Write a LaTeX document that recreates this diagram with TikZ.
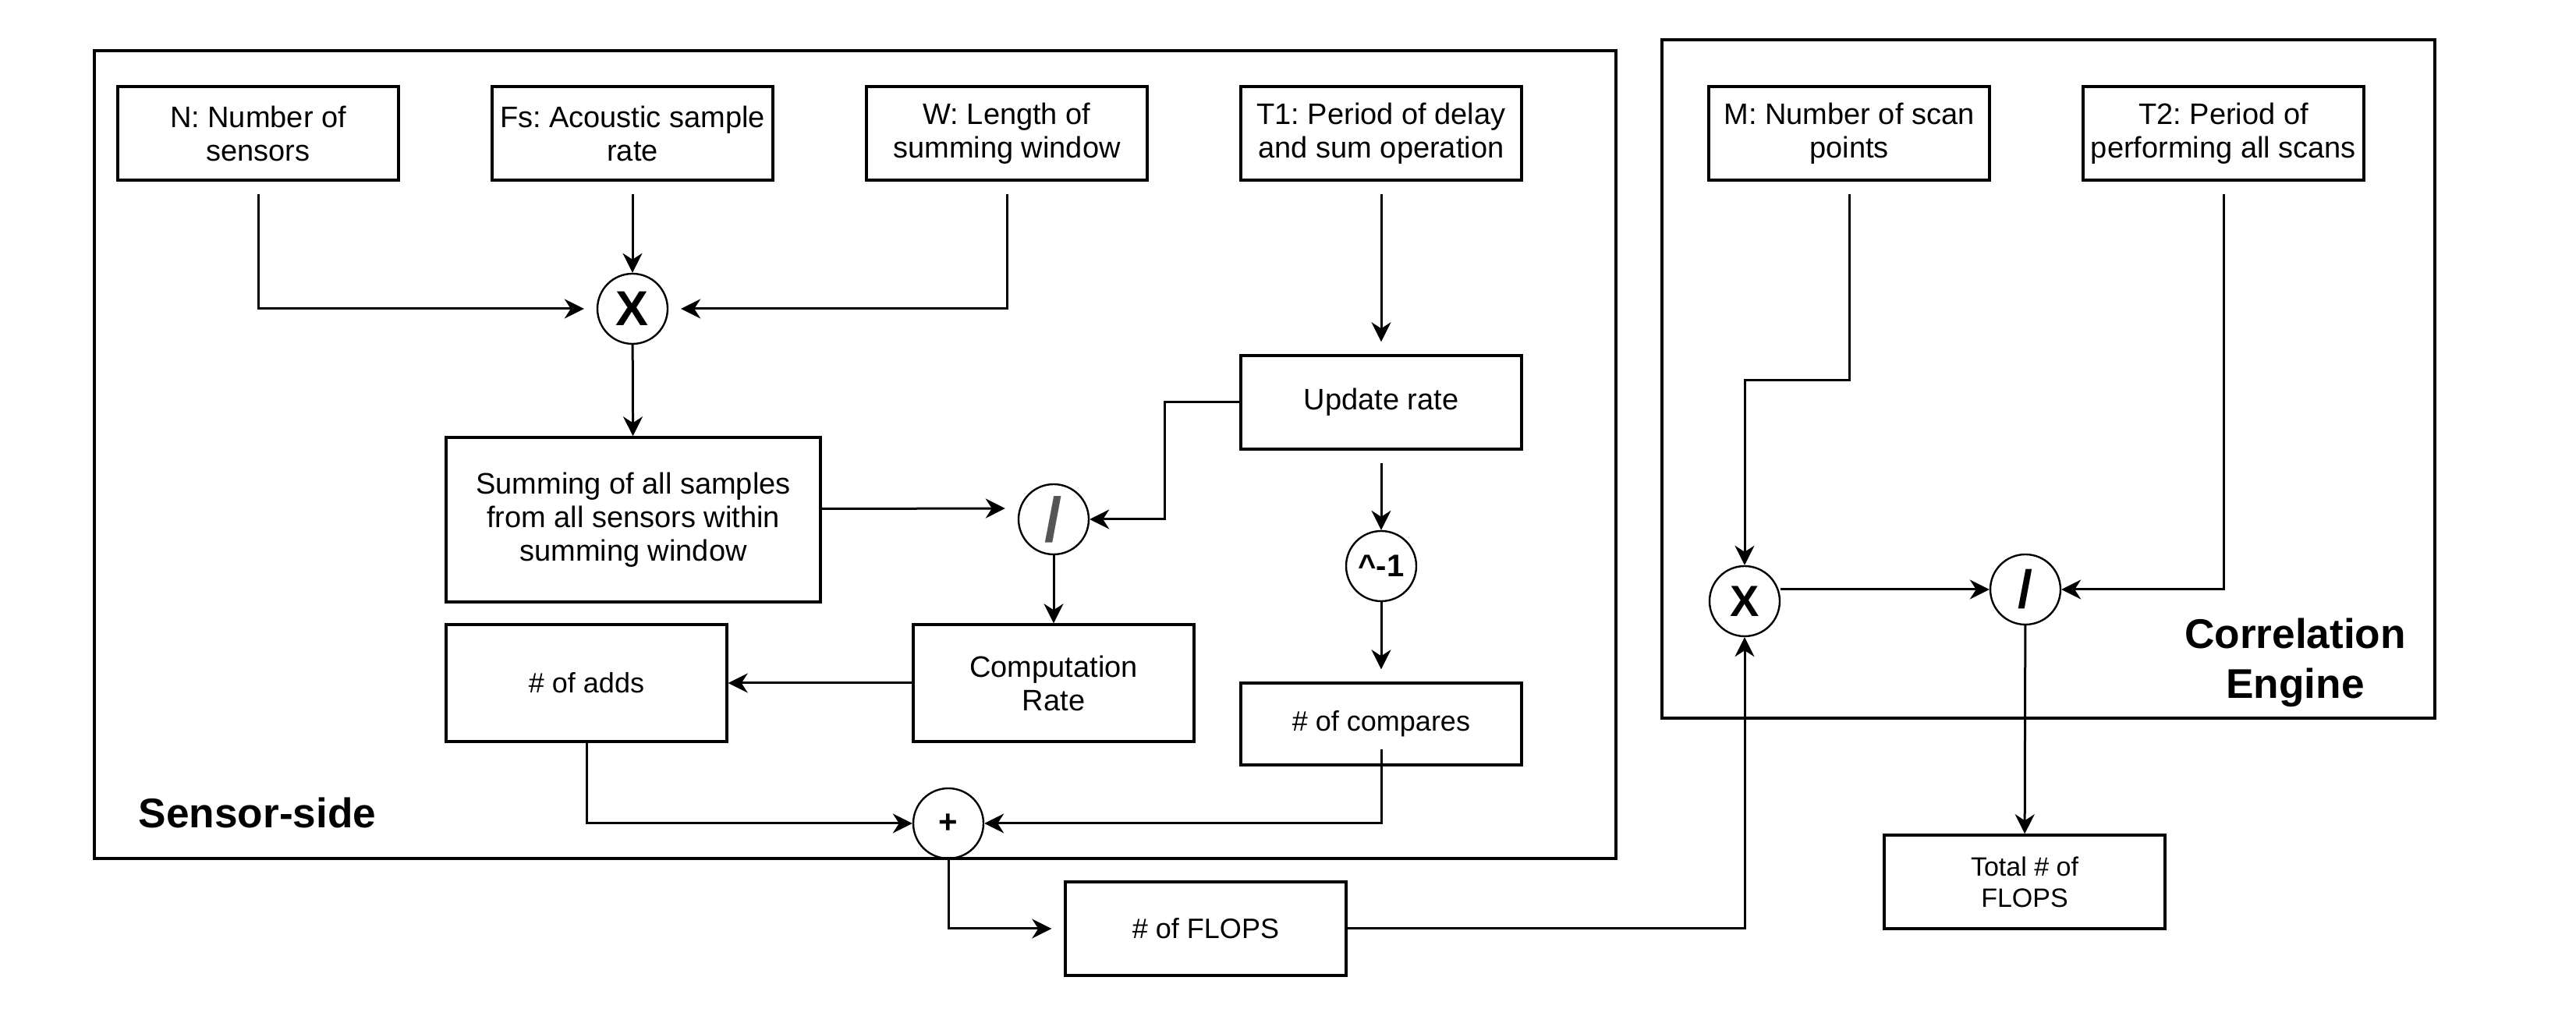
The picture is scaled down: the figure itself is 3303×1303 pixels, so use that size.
\documentclass[tikz,border=0pt]{standalone}
\usepackage{fontspec}
\setmainfont{Liberation Sans}
\frenchspacing
\usetikzlibrary{arrows.meta}
\definecolor{slashgray}{RGB}{85,85,85}
\begin{document}
\begin{tikzpicture}[x=0.25pt, y=-0.25pt,
  box/.style={draw, line width=0.85pt, minimum width=90pt, minimum height=30pt, inner sep=0pt, align=center, font=\fontsize{9.5}{10.75}\selectfont},
  op/.style={circle, draw, line width=0.6pt, minimum size=22.5pt, inner sep=0pt},
  arr/.style={-{Stealth[length=6.25pt, width=6.25pt, inset=2pt]}, line width=0.75pt},
  gap/.style={shorten <=4pt},
  area/.style={draw, line width=0.85pt},
  tag/.style={font=\bfseries\fontsize{13.3}{16}\selectfont, inner sep=0pt}]
\useasboundingbox (0,0) rectangle (3303,1303);
% the two areas
\draw[area] (121,65) rectangle (2072,1101);
\draw[area] (2131,51) rectangle (3122,921);
\node[tag, anchor=base west] (sside) at (177,1062) {Sensor-side};
\node[tag, align=center] (ceng) at (2943,850) {Correlation\\Engine};
% inputs
\node[box] (nsens) at (331,171) {N: Number of\\sensors};
\node[box] (fs) at (811,171) {Fs: Acoustic sample\\rate};
\node[box] (win) at (1291,171) {W: Length of\\summing window};
\node[box] (tone) at (1771,171) {T1: Period of delay\\and sum operation};
\node[box] (nscan) at (2371,171) {M: Number of scan\\points};
\node[box] (ttwo) at (2851,171) {T2: Period of\\performing all scans};
% operators
\node[op, font=\bfseries\fontsize{15.75}{18}\selectfont] (mulA) at (811,396) {X};
\node[op, text=slashgray, font=\bfseries\fontsize{20}{24}\selectfont] (divA) at (1351,666) {/};
\node[op, font=\bfseries\fontsize{10}{12}\selectfont] (inv) at (1771,726) {\textasciicircum-1};
\node[op, font=\bfseries\fontsize{10.5}{12}\selectfont] (plus) at (1216,1056) {+};
\node[op, font=\bfseries\fontsize{14}{16}\selectfont] (mulB) at (2237,771) {X};
\node[op, font=\bfseries\fontsize{17}{20}\selectfont] (divB) at (2597,756) {/};
% intermediate results
\node[box] (upd) at (1771,516) {Update rate};
\node[box, minimum width=120pt, minimum height=52.75pt] (summ) at (812,666.5) {Summing of all samples\\from all sensors within\\summing window};
\node[box, minimum height=37.5pt, font=\fontsize{9}{10.75}\selectfont] (adds) at (752,876) {\# of adds};
\node[box, minimum height=37.5pt] (crate) at (1351,876) {Computation\\Rate};
\node[box, minimum height=26.25pt, font=\fontsize{9}{10.75}\selectfont] (cmp) at (1771,928.5) {\# of compares};
\node[box, font=\fontsize{9}{10.75}\selectfont] (flops) at (1546,1191) {\# of FLOPS};
\node[box, font=\fontsize{8.5}{10}\selectfont] (total) at (2596,1131) {Total \# of\\FLOPS};
% connectors
\draw[arr, gap, shorten >=4pt] (nsens) |- (mulA);
\draw[arr, gap] (fs) -- (mulA);
\draw[arr, gap, shorten >=4pt] (win) |- (mulA);
\draw[arr] (mulA) -- (summ);
\draw[arr, gap, shorten >=4pt] (tone) -- (upd);
\draw[arr] (upd.west) -- ++(-96,0) |- (divA);
\draw[arr, shorten >=4pt] ([yshift=3.5pt]summ.east) -- ([yshift=3.5pt]divA.west);
\draw[arr] (divA) -- (crate);
\draw[arr, gap] (upd) -- (inv);
\draw[arr, shorten >=4pt] (inv) -- (cmp);
\draw[arr] (crate) -- (adds);
\draw[arr] (adds) |- (plus);
\draw[arr, shorten <=-5.5pt] (cmp) |- (plus);
\draw[arr, shorten >=4pt] (plus) |- (flops);
\draw[arr] (flops) -| (mulB);
\draw[arr, gap] (nscan.south) -- ++(0,255) -| (mulB);
\draw[arr, gap] (ttwo) |- (divB);
\draw[arr] ([yshift=3.75pt]mulB.east) -- (divB);
\draw[arr] (divB) -- (total);
\end{tikzpicture}
\end{document}
